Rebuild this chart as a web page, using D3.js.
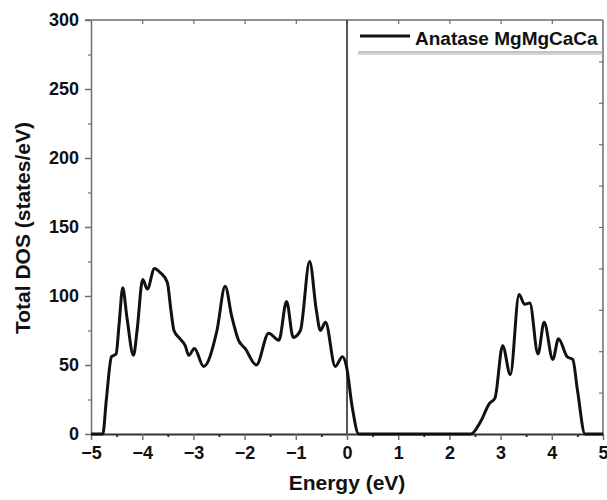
<!DOCTYPE html>
<html>
<head>
<meta charset="utf-8">
<script src="https://cdn.jsdelivr.net/npm/d3@7"></script>
<style>
  body { margin: 0; background: #fff; }
  text { font-family: "Liberation Sans", Arial, sans-serif; font-weight: bold; }
</style>
</head>
<body>
<svg id="vis" width="607" height="500"></svg>
<script>
var MARGINS = {top: 20, right: 4, bottom: 66, left: 91};
var width = 607, height = 500;

// energy (eV) and total DOS (states/eV)
var energy = [-5, -4.77, -4.70, -4.60, -4.51, -4.45, -4.38, -4.30, -4.17, -4.10, -3.99, -3.90,
    -3.76, -3.65, -3.51, -3.44, -3.38, -3.26, -3.16, -3.09, -2.98, -2.80, -2.54, -2.38,
    -2.25, -2.12, -1.99, -1.77, -1.53, -1.33, -1.18, -1.05, -0.91, -0.73, -0.60, -0.52,
    -0.42, -0.23, -0.09, -0.01, 0.10, 0.23, 2.42, 2.61, 2.78, 2.89, 3.04, 3.19, 3.36,
    3.47, 3.57, 3.73, 3.85, 4.02, 4.13, 4.30, 4.41, 4.50, 4.65, 5];
var dos = [0, 0, 25, 56, 58, 80, 106, 85, 57, 75, 112, 105,
    120, 117, 110, 90, 75, 69, 64, 57, 62, 49, 75, 107,
    85, 68, 62, 50, 73, 68, 96, 70, 75, 125, 90, 75,
    81, 49, 56, 49, 20, 0, 0, 9, 22, 26, 64, 43, 101,
    94, 95, 58, 81, 54, 69, 56, 54, 32, 0, 0];

var xTicks = [-5, -4, -3, -2, -1, 0, 1, 2, 3, 4, 5];
var yTicks = [0, 50, 100, 150, 200, 250, 300];
var seriesName = "Anatase MgMgCaCa";

var display = d3.select("#vis");
var frameColor = "#6e6e6e";

var x = d3.scaleLinear().domain([-5, 5]).range([MARGINS.left, width - MARGINS.right]);
var y = d3.scaleLinear().domain([0, 300]).range([height - MARGINS.bottom, MARGINS.top]);

// frame: top and right
display.append("line")
    .attr("x1", x(-5) - 6).attr("x2", x(5))
    .attr("y1", y(300)).attr("y2", y(300))
    .attr("stroke", frameColor).attr("stroke-width", 1.5);
display.append("line")
    .attr("x1", x(5)).attr("x2", x(5))
    .attr("y1", y(300)).attr("y2", y(0))
    .attr("stroke", frameColor).attr("stroke-width", 1.5);

// top ticks (inside)
display.append("g")
    .attr("transform", `translate(0, ${y(300)})`)
    .call(d3.axisBottom(x).tickValues(xTicks.slice(1, -1)).tickSize(4).tickFormat(""))
    .call(g => g.select(".domain").remove())
    .call(g => g.selectAll("line").attr("stroke", frameColor).attr("stroke-width", 1.2));

// right ticks (inside), different spacing as in the source
display.append("g")
    .attr("transform", `translate(${x(5)}, 0)`)
    .call(d3.axisLeft(y).tickValues(d3.range(30, 300, 30)).tickSize(4).tickFormat(""))
    .call(g => g.select(".domain").remove())
    .call(g => g.selectAll("line").attr("stroke", frameColor).attr("stroke-width", 1.2));

// left axis
var yAxis = display.append("g")
    .attr("transform", `translate(${MARGINS.left}, 0)`)
    .call(d3.axisLeft(y).tickValues(yTicks).tickSize(6).tickPadding(6).tickSizeOuter(0));
yAxis.select(".domain").attr("stroke", frameColor).attr("stroke-width", 1.5);
yAxis.selectAll("line").attr("stroke", frameColor).attr("stroke-width", 1.5);
yAxis.selectAll("text").style("font-size", "18px").attr("fill", "#111");
display.append("g")
    .attr("transform", `translate(${MARGINS.left}, 0)`)
    .call(d3.axisLeft(y).tickValues(d3.range(25, 300, 50)).tickSize(3).tickFormat(""))
    .call(g => g.select(".domain").remove())
    .call(g => g.selectAll("line").attr("stroke", frameColor).attr("stroke-width", 1.2));

// bottom axis
var xAxis = display.append("g")
    .attr("transform", `translate(0, ${y(0)})`)
    .call(d3.axisBottom(x).tickValues(xTicks).tickSize(6).tickPadding(6).tickSizeOuter(0)
        .tickFormat(d => d < 0 ? "\u2212" + Math.abs(d) : d));
xAxis.select(".domain").attr("stroke", "#333").attr("stroke-width", 2);
xAxis.selectAll("line").attr("stroke", frameColor).attr("stroke-width", 1.5);
xAxis.selectAll("text").style("font-size", "18px").attr("fill", "#111");
display.append("g")
    .attr("transform", `translate(0, ${y(0)})`)
    .call(d3.axisBottom(x).tickValues(d3.range(-4.5, 5, 1)).tickSize(3).tickFormat(""))
    .call(g => g.select(".domain").remove())
    .call(g => g.selectAll("line").attr("stroke", "#333").attr("stroke-width", 2));

// Fermi level line
display.append("line")
    .attr("x1", x(0)).attr("x2", x(0))
    .attr("y1", y(300)).attr("y2", y(0))
    .attr("stroke", "#444").attr("stroke-width", 1.8);

// DOS curve
var points = energy.map((e, i) => [e, dos[i]]);
var line = d3.line()
    .x(d => x(d[0]))
    .y(d => y(d[1]))
    .curve(d3.curveMonotoneX);
display.append("path")
    .datum(points)
    .attr("d", line)
    .attr("fill", "none")
    .attr("stroke", "#111")
    .attr("stroke-width", 3)
    .attr("stroke-linejoin", "round");

// legend
display.append("line")
    .attr("x1", 360).attr("x2", 410)
    .attr("y1", 36).attr("y2", 36)
    .attr("stroke", "#111").attr("stroke-width", 3);
display.append("text")
    .attr("x", 415).attr("y", 45)
    .style("font-size", "19px")
    .attr("fill", "#111")
    .text(seriesName);
display.append("line")
    .attr("x1", 358).attr("x2", x(5))
    .attr("y1", 52).attr("y2", 52)
    .attr("stroke", "#888").attr("stroke-width", 1);
display.append("line")
    .attr("x1", 358).attr("x2", x(5))
    .attr("y1", 54).attr("y2", 54)
    .attr("stroke", "#aaa").attr("stroke-width", 1);

// axis titles
display.append("text")
    .attr("x", (MARGINS.left + width - MARGINS.right) / 2)
    .attr("y", 490)
    .attr("text-anchor", "middle")
    .style("font-size", "21px")
    .attr("fill", "#111")
    .text("Energy (eV)");
display.append("text")
    .attr("transform", `translate(30, ${(y(0) + y(300)) / 2 + 1}) rotate(-90)`)
    .attr("text-anchor", "middle")
    .style("font-size", "21px")
    .attr("fill", "#111")
    .text("Total DOS (states/eV)");
</script>
</body>
</html>
